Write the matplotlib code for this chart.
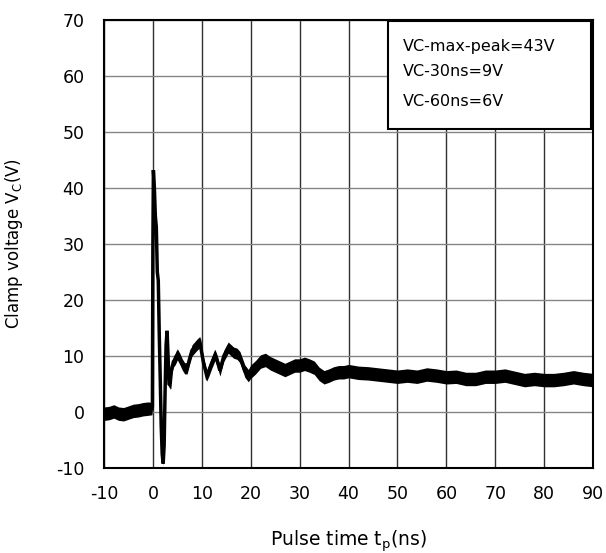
import numpy as np
import matplotlib.pyplot as plt
from matplotlib.patches import Rectangle

plt.rcParams['font.family'] = ['DejaVu Sans']
plt.rcParams['mathtext.default'] = 'regular'
plt.rcParams['axes.unicode_minus'] = False

# clamp voltage waveform (center of the noisy band)
t_ns = [-10, -9, -8, -7, -6, -5, -4, -3, -2, -1, -0.2,
        -0.1, 0.0, 0.1, 0.3, 0.5, 0.7, 0.9, 1.1, 1.3, 1.5, 1.7, 1.9, 2.1, 2.3,
        2.5, 2.7, 2.9, 3.1, 3.3, 3.5, 3.8, 4.2, 4.6, 5.0, 5.5, 6.0, 6.5, 7.0,
        7.5, 8.0, 8.5, 9.0, 9.6, 10.3, 11.0, 11.5, 12.0, 12.7, 13.2, 13.7,
        14.5, 15.4, 16.5, 17.2, 17.8, 18.8, 19.5,
        20, 21, 22, 23, 24, 25, 26, 27, 28, 29, 30, 31, 32, 33, 34, 35, 36,
        37, 38, 39, 40, 42, 44, 46, 48, 50, 52, 54, 56, 58, 60, 62, 64, 66,
        68, 70, 72, 74, 76, 78, 80, 82, 84, 86, 88, 90]
vc = [-0.3, -0.2, 0.1, -0.3, -0.4, -0.1, 0.2, 0.3, 0.5, 0.6, 0.6,
      1.0, 30.0, 43.2, 40.0, 35.0, 33.0, 25.0, 23.5, 14.0, 6.0, -2.5, -7.5, -9.2, -6.0,
      4.0, 12.0, 14.5, 10.0, 5.0, 4.8, 7.5, 9.0, 9.5, 10.3, 9.5, 8.5, 7.8, 7.8,
      9.5, 11.0, 11.5, 12.0, 12.5, 9.0, 6.5, 7.5, 8.7, 10.2, 9.0, 7.4,
      10.0, 11.5, 10.6, 10.4, 9.8, 7.3, 6.5,
      7.2, 8.0, 9.0, 9.3, 8.7, 8.3, 7.9, 7.5, 7.9, 8.3, 8.3, 8.6, 8.3, 7.9, 6.8, 6.2, 6.5,
      6.9, 7.1, 7.1, 7.3, 7.0, 6.9, 6.7, 6.5, 6.3, 6.5, 6.3, 6.7, 6.5, 6.2, 6.3, 5.9, 5.9,
      6.3, 6.3, 6.5, 6.1, 5.7, 5.9, 5.7, 5.7, 5.9, 6.2, 5.9, 5.7]
# half width of the noise band around the center
noise = [1.2, 1.2, 1.2, 1.2, 1.2, 1.2, 1.2, 1.2, 1.2, 1.2, 1.1,
         0.6, 0.3, 0.3, 0.3, 0.3, 0.3, 0.3, 0.3, 0.3, 0.3, 0.3, 0.3, 0.3, 0.3,
         0.3, 0.3, 0.3, 0.4, 0.5, 0.8, 0.9, 1.0, 1.0, 1.0, 1.0, 1.0, 1.0, 1.0,
         1.0, 1.0, 1.0, 1.0, 1.0, 1.0, 1.0, 1.0, 1.0, 1.0, 1.0, 1.0,
         1.0, 1.0, 1.0, 1.0, 1.0, 1.1, 1.1,
         1.2, 1.2, 1.2, 1.2, 1.2, 1.2, 1.2, 1.2, 1.2, 1.2, 1.2, 1.2, 1.2, 1.2, 1.2, 1.2, 1.2,
         1.2, 1.2, 1.2, 1.2, 1.2, 1.2, 1.2, 1.2, 1.2, 1.2, 1.2, 1.2, 1.2, 1.2, 1.2, 1.2, 1.2,
         1.2, 1.2, 1.2, 1.2, 1.2, 1.2, 1.2, 1.2, 1.2, 1.2, 1.2, 1.2]

x_ticks = [-10, 0, 10, 20, 30, 40, 50, 60, 70, 80, 90]
y_ticks = [-10, 0, 10, 20, 30, 40, 50, 60, 70]
notes = ['VC-max-peak=43V', 'VC-30ns=9V', 'VC-60ns=6V']

t = np.array(t_ns)
v = np.array(vc)
n = np.array(noise)

fig = plt.figure(figsize=(6.06, 5.53), dpi=100)
ax = fig.add_axes([0.1716, 0.1537, 0.807, 0.8101])

for xv in x_ticks:
    ax.axvline(xv, color='#303030', lw=1.0, zorder=1)
for yv in y_ticks:
    ax.axhline(yv, color='#858585', lw=1.0, zorder=1)

ax.fill_between(t, v - n, v + n, color='black', lw=0, zorder=3)
ax.plot(t, v, color='black', lw=2.5, solid_joinstyle='miter', zorder=4)

ax.set_xlim(-10, 90)
ax.set_ylim(-10, 70)
ax.set_xticks(x_ticks)
ax.set_yticks(y_ticks)
ax.tick_params(length=0, labelsize=12.5)
ax.tick_params(axis='y', pad=14)
ax.tick_params(axis='x', pad=12)
for s in ax.spines.values():
    s.set_linewidth(1.5)
    s.set_zorder(5)

ax.set_xlabel('Pulse time t$_{p}$(ns)', fontsize=13.5)
ax.set_ylabel('Clamp voltage V$_{C}$(V)', fontsize=12)
ax.xaxis.set_label_coords(0.5, -0.135)
ax.yaxis.set_label_coords(-0.162, 0.5)

box = Rectangle((0.581, 0.756), 0.415, 0.242, transform=ax.transAxes,
                facecolor='white', edgecolor='black', lw=1.5, zorder=6)
ax.add_patch(box)
for txt, yy in zip(notes, [0.942, 0.885, 0.819]):
    ax.text(0.611, yy, txt, transform=ax.transAxes, fontsize=11.5,
            va='center', ha='left', zorder=7)

fig.savefig('out.png', dpi=100)
